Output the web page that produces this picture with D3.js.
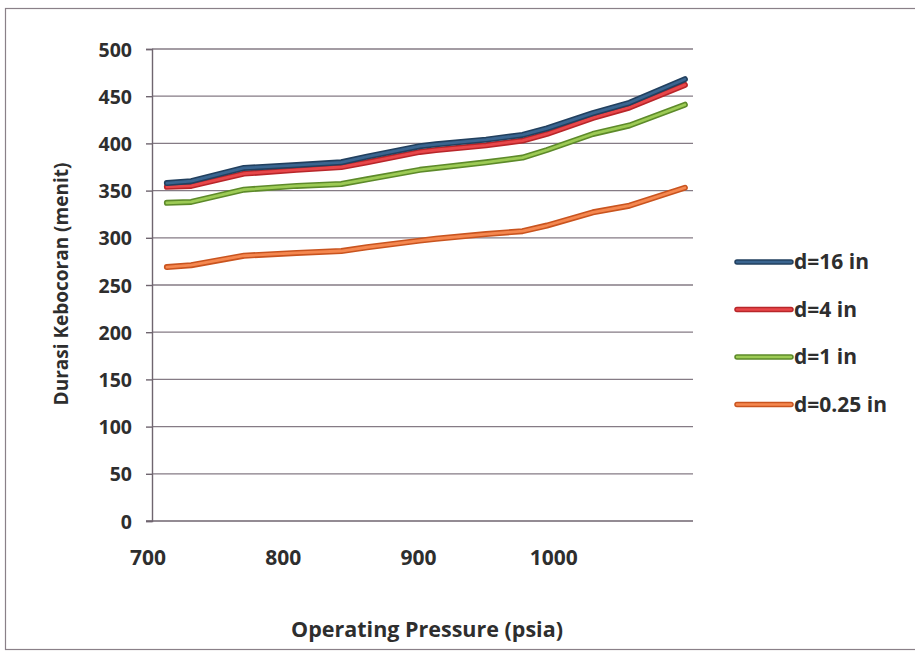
<!DOCTYPE html>
<html>
<head>
<meta charset="utf-8">
<script src="https://cdn.jsdelivr.net/npm/d3@7"></script>
<style>
  html, body { margin: 0; padding: 0; background: #fff; }
  svg { display: block; }
  text { font-family: "Open Sans", Lato, sans-serif; font-weight: 700; fill: #2e2e2e; }
</style>
</head>
<body>
<svg id="chart" width="915" height="657"></svg>
<script>
// Operating pressure (psia) sampled along each curve
const pressure = [711, 729, 768, 807, 840, 859, 898, 910, 947, 974, 992, 1026, 1053, 1094];

// Leak duration (menit) per hole diameter
const d16  = [358, 360, 374, 377, 380, 386, 397, 399, 404, 409, 416, 432, 443, 468];
const d4   = [354, 355, 368, 372, 375, 380, 391, 393, 398, 403, 410, 427, 438, 462];
const d1   = [337, 338, 351, 355, 357, 362, 372, 374, 380, 385, 393, 410, 419, 441];
const d025 = [269, 271, 281, 284, 286, 290, 297, 299, 304, 307, 313, 327, 334, 353];

const seriesNames = ["d=16 in", "d=4 in", "d=1 in", "d=0.25 in"];
const seriesValues = [d16, d4, d1, d025];
const seriesStroke = ["#22405f", "#b8262a", "#5d8a2a", "#c9541f"];
const seriesFill   = ["#3a6590", "#e8474a", "#9dcb55", "#f58850"];

const xTicks = [700, 800, 900, 1000];
const yTicks = [0, 50, 100, 150, 200, 250, 300, 350, 400, 450, 500];

const svg = d3.select("#chart");

// Outer chart frame
svg.append("rect")
  .attr("x", 5.5).attr("y", 8.5)
  .attr("width", 915).attr("height", 641)
  .attr("fill", "#fff")
  .attr("stroke", "#8a8088").attr("stroke-width", 1.2);

const plot = { left: 152, right: 693, top: 49, bottom: 521 };

const x = d3.scaleLinear().domain([700, 1100]).range([plot.left, plot.right]);
const y = d3.scaleLinear().domain([0, 500]).range([plot.bottom, plot.top]);

// Horizontal gridlines
svg.append("g")
  .selectAll("line")
  .data(yTicks.filter(v => v > 0))
  .join("line")
  .attr("x1", plot.left).attr("x2", plot.right)
  .attr("y1", d => y(d)).attr("y2", d => y(d))
  .attr("stroke", "#857b85").attr("stroke-width", 1.3);

// Y axis
const yAxis = svg.append("g")
  .attr("transform", `translate(${plot.left},0)`)
  .call(d3.axisLeft(y).tickValues(yTicks).tickSize(6).tickPadding(14));
yAxis.select(".domain").attr("stroke", "#6f656f").attr("stroke-width", 1.4);
yAxis.selectAll(".tick line").attr("stroke", "#6f656f").attr("stroke-width", 1.4);
yAxis.selectAll(".tick text")
  .style("font-family", "'Open Sans', Lato, sans-serif")
  .style("font-weight", 700).style("font-size", "19.5px").attr("fill", "#2e2e2e")
  .attr("dy", "0.36em");

// X axis line
svg.append("line")
  .attr("x1", plot.left - 6).attr("x2", plot.right)
  .attr("y1", plot.bottom).attr("y2", plot.bottom)
  .attr("stroke", "#6f656f").attr("stroke-width", 1.4);

// X tick labels
svg.append("g")
  .selectAll("text")
  .data(xTicks)
  .join("text")
  .attr("x", d => x(d) - 4)
  .attr("y", 565)
  .attr("text-anchor", "middle")
  .style("font-size", "21px")
  .text(d => d);

// Axis titles
svg.append("text")
  .attr("x", 427).attr("y", 637)
  .attr("text-anchor", "middle")
  .style("font-size", "21.5px")
  .text("Operating Pressure (psia)");

svg.append("text")
  .attr("transform", "translate(68,284) rotate(-90)")
  .attr("text-anchor", "middle")
  .style("font-size", "19px")
  .text("Durasi Kebocoran (menit)");

// Series lines: darker outline under a lighter core
const line = d3.line()
  .x((d, i) => x(pressure[i]))
  .y(d => y(d))
  .curve(d3.curveLinear);

const order = [3, 2, 1, 0];
order.forEach(k => {
  svg.append("path")
    .datum(seriesValues[k])
    .attr("d", line)
    .attr("fill", "none")
    .attr("stroke", seriesStroke[k])
    .attr("stroke-width", 6)
    .attr("stroke-linejoin", "round")
    .attr("stroke-linecap", "round");
  svg.append("path")
    .datum(seriesValues[k])
    .attr("d", line)
    .attr("fill", "none")
    .attr("stroke", seriesFill[k])
    .attr("stroke-width", 2.8)
    .attr("stroke-linejoin", "round")
    .attr("stroke-linecap", "round");
});

// Legend
const legend = svg.append("g").attr("transform", "translate(737,262)");
const item = legend.selectAll("g")
  .data(seriesNames)
  .join("g")
  .attr("transform", (d, i) => `translate(0,${i * 47.5})`);
item.append("line")
  .attr("x1", 0).attr("x2", 54).attr("y1", 0).attr("y2", 0)
  .attr("stroke", (d, i) => seriesStroke[i]).attr("stroke-width", 5.5)
  .attr("stroke-linecap", "round");
item.append("line")
  .attr("x1", 0).attr("x2", 54).attr("y1", 0).attr("y2", 0)
  .attr("stroke", (d, i) => seriesFill[i]).attr("stroke-width", 2.4)
  .attr("stroke-linecap", "round");
item.append("text")
  .attr("x", 57).attr("y", 7)
  .style("font-size", "21px")
  .text(d => d);
</script>
</body>
</html>
